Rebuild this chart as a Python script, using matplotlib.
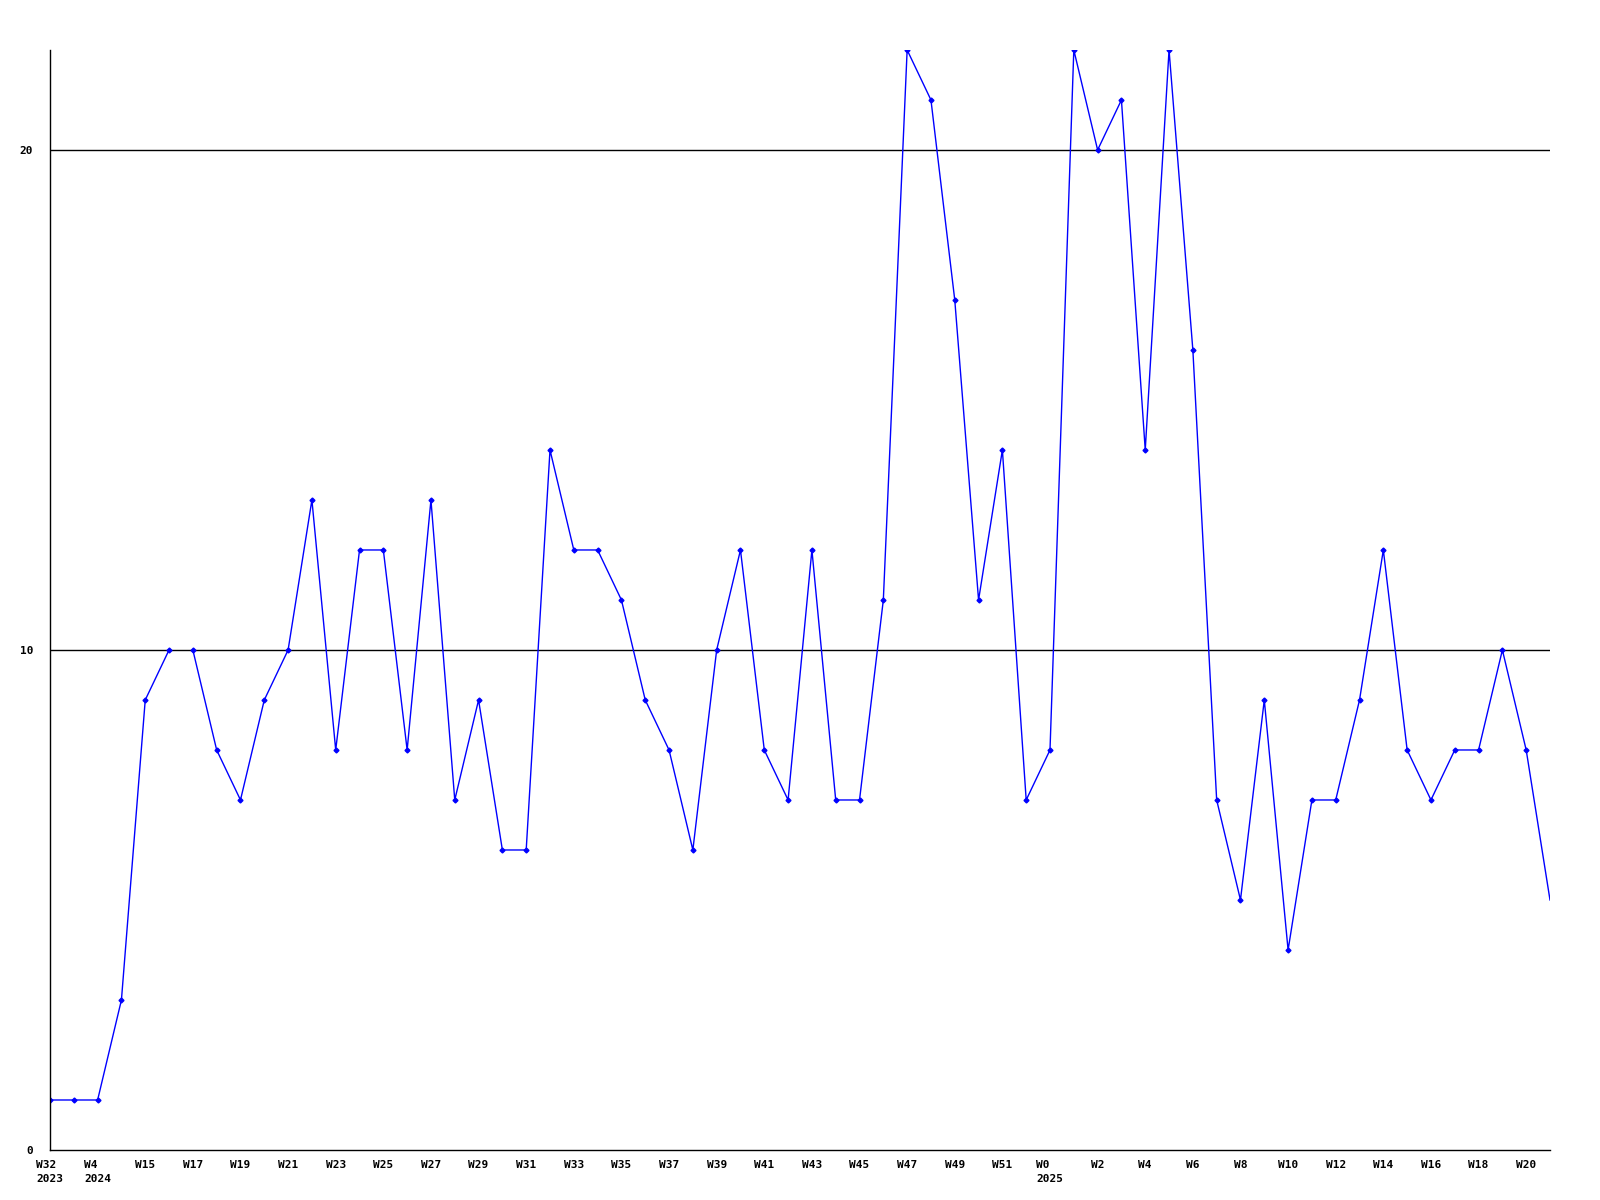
import matplotlib
matplotlib.use("Agg")
import matplotlib.pyplot as plt

# weekly counts
counts = [1, 1, 1, 3, 9, 10, 10, 8, 7, 9,
          10, 13, 8, 12, 12, 8, 13, 7, 9, 6,
          6, 14, 12, 12, 11, 9, 8, 6, 10, 12,
          8, 7, 12, 7, 7, 11, 22, 21, 17, 11,
          14, 7, 8, 22, 20, 21, 14, 22, 16, 7,
          5, 9, 4, 7, 7, 9, 12, 8, 7, 8,
          8, 10, 8, 5]

# the line is broken between these two points
break_after = 5

tick_labels = ["W32\n2023", "W4\n2024", "W15", "W17", "W19", "W21", "W23", "W25",
               "W27", "W29", "W31", "W33", "W35", "W37", "W39", "W41",
               "W43", "W45", "W47", "W49", "W51", "W0\n2025", "W2", "W4",
               "W6", "W8", "W10", "W12", "W14", "W16", "W18", "W20"]

y_ticks = [0, 10, 20]

fig = plt.figure(figsize=(16, 12), dpi=100)
ax = fig.add_axes([0.03125, 0.04167, 0.9375, 0.9167])

x = list(range(len(counts)))
segments = [(x[:break_after + 1], counts[:break_after + 1]),
            (x[break_after + 1:-1], counts[break_after + 1:-1])]
for xs, ys in segments:
    ax.plot(xs, ys, color="#0000ff", linewidth=1, marker="D", markersize=2.5)
# last segment runs to the plot edge without a marker
ax.plot(x[-2:], counts[-2:], color="#0000ff", linewidth=1)

for yv in y_ticks[1:]:
    ax.axhline(yv, color="black", linewidth=1, zorder=0)

ax.set_xlim(0, len(counts) - 1)
ax.set_ylim(0, 22)

ax.set_xticks(x[::2])
ax.set_xticklabels(tick_labels, family="DejaVu Sans Mono", fontweight="bold",
                   fontsize=8, linespacing=1.5, ha="center", multialignment="left")

ax.set_yticks(y_ticks)
ax.set_yticklabels([str(v) for v in y_ticks], family="DejaVu Sans Mono",
                   fontweight="bold", fontsize=8)
ax.tick_params(axis="both", length=0)
ax.tick_params(axis="y", pad=12)
ax.tick_params(axis="x", pad=7)

ax.spines["top"].set_visible(False)
ax.spines["right"].set_visible(False)
ax.spines["left"].set_linewidth(1)
ax.spines["bottom"].set_linewidth(1)

fig.savefig("out.png", dpi=100)
